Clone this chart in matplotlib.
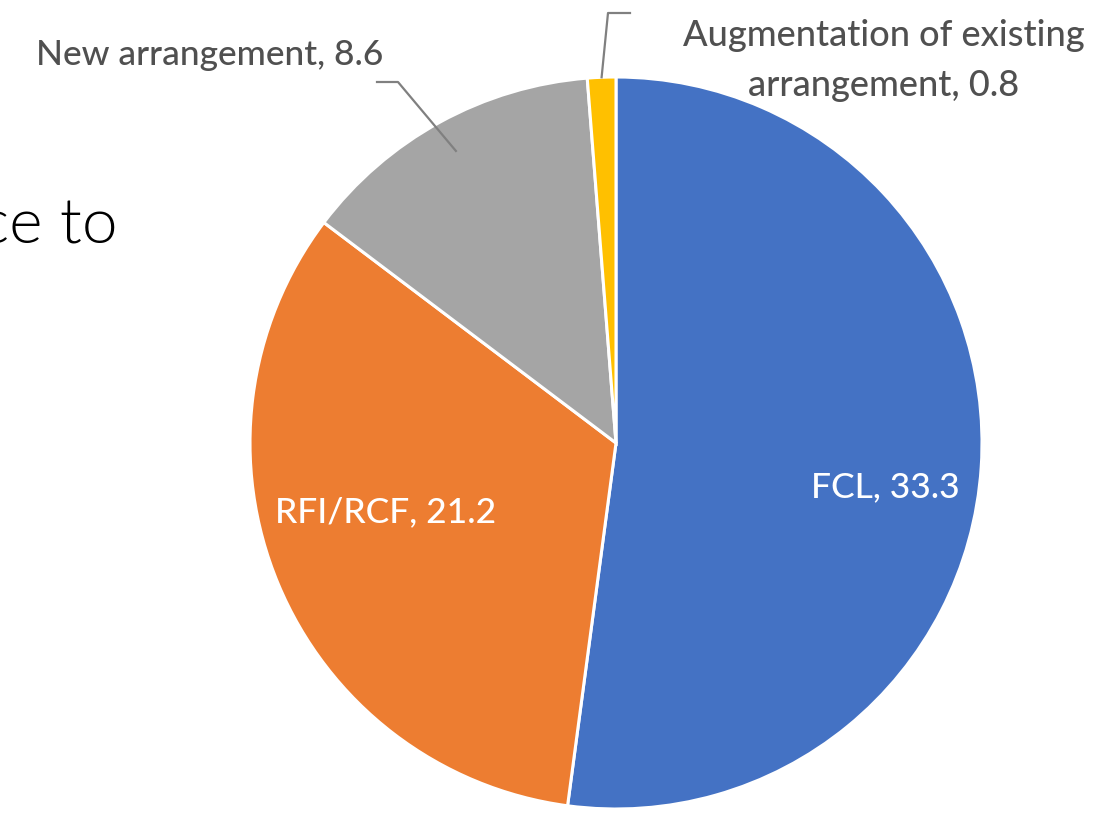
import numpy as np
import matplotlib.pyplot as plt

# slices, clockwise from 12 o'clock
labels = ["FCL", "RFI/RCF", "New arrangement", "Augmentation of existing\narrangement"]
values = [33.3, 21.2, 8.6, 0.8]
colors = ["#4472C4", "#ED7D31", "#A5A5A5", "#FFC000"]

W, H = 1120, 816
plt.rcParams['font.family'] = ['Lato', 'DejaVu Sans']

fig = plt.figure(figsize=(W / 100, H / 100), dpi=100)
ax = fig.add_axes([0, 0, 1, 1])

# pie in pixel-like units, y measured from the bottom
cx, cy, r = 616, H - 443, 366
wedges, _ = ax.pie(values, colors=colors, startangle=90, counterclock=False,
                   center=(cx, cy), radius=r,
                   wedgeprops=dict(edgecolor='white', linewidth=2.2))
ax.set_xlim(0, W)
ax.set_ylim(0, H)
ax.set_aspect('equal')
ax.axis('off')


def lab(name, val):
    return f"{name}, {val}"


def edge_point(w, frac):
    mid = np.deg2rad((w.theta1 + w.theta2) / 2)
    return cx + frac * r * np.cos(mid), cy + frac * r * np.sin(mid)


grey = '#505050'
fs = 25.5
fw = 500

# inside labels
ax.text(885, H - 487, lab(labels[0], values[0]), color='white', fontsize=fs,
        fontweight=fw, ha='center', va='center')
ax.text(386, H - 512, lab(labels[1], values[1]), color='white', fontsize=fs,
        fontweight=fw, ha='center', va='center')

# New arrangement label + leader
ax.text(210, H - 55, lab(labels[2], values[2]), color=grey, fontsize=fs,
        fontweight=fw, ha='center', va='center')
px, py = edge_point(wedges[2], 0.91)
ax.plot([377, 398, px], [H - 82, H - 82, py], color='#808080', lw=1.6)

# Augmentation label + leader
first, second = labels[3].split("\n")
ax.text(884, H - 35, first, color=grey, fontsize=fs + 0.5, fontweight=fw,
        ha='center', va='center')
ax.text(884, H - 86, f"{second}, {values[3]}", color=grey, fontsize=fs + 0.5,
        fontweight=fw, ha='center', va='center')
px, py = edge_point(wedges[3], 1.0)
ax.plot([px, 608, 630], [py, H - 13, H - 13], color='#808080', lw=1.6)

# leftover slide text, clipped at the left edge
ax.text(118, H - 243, "ce to", color='black', fontsize=46, fontweight=300,
        ha='right', va='baseline')

fig.savefig('out.png', dpi=100, facecolor='white')
